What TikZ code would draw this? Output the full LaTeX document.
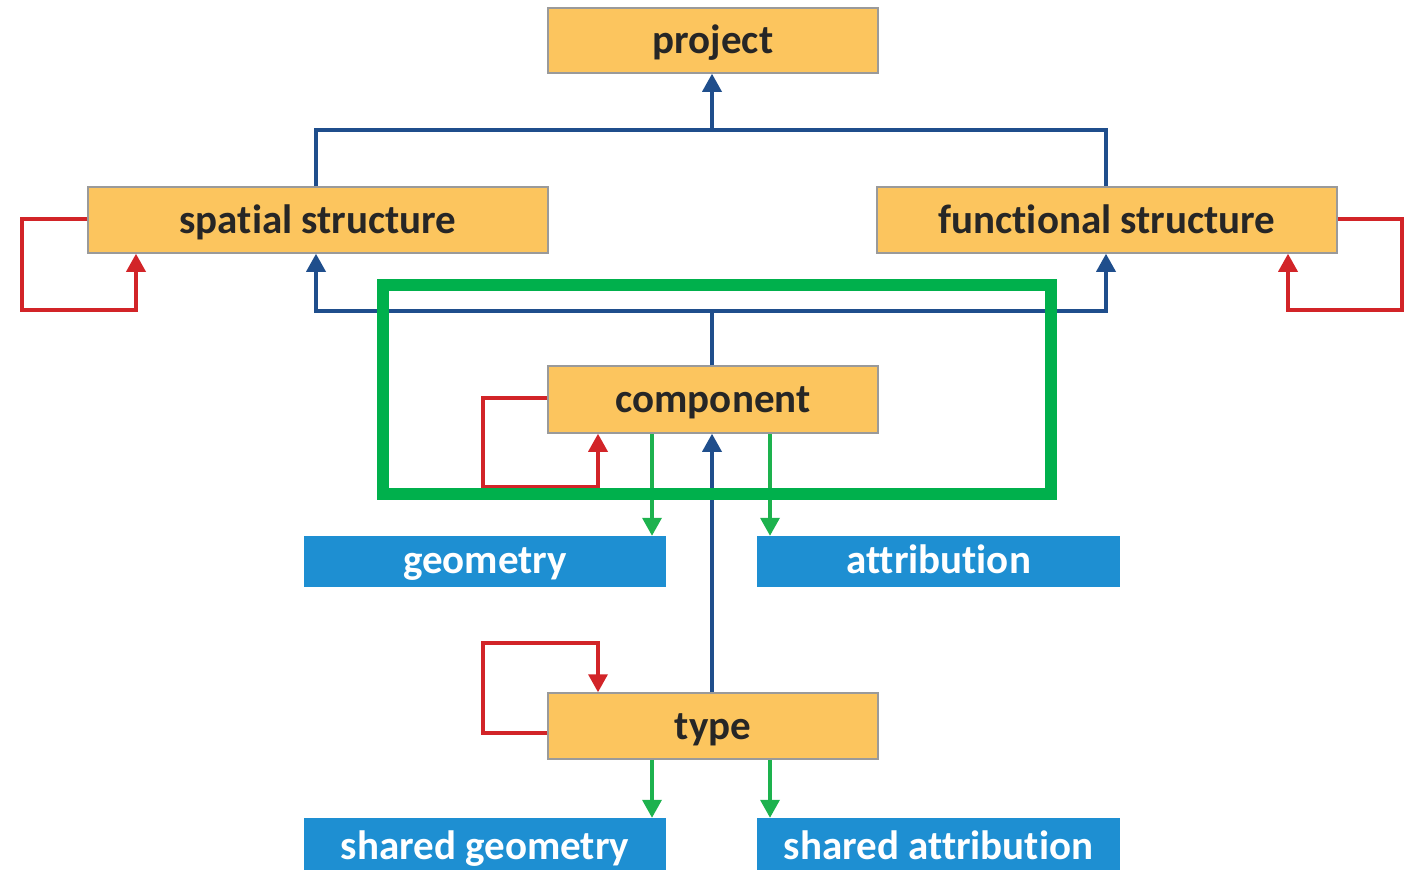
\documentclass[tikz,border=0pt]{standalone}
\usepackage{fontspec}
\setmainfont{Carlito}[Ligatures=NoCommon]
\usetikzlibrary{arrows.meta}
\definecolor{boxorange}{HTML}{FCC55E}
\definecolor{boxedge}{HTML}{9A9A9A}
\definecolor{boxblue}{HTML}{1E8FD2}
\definecolor{lineblue}{HTML}{1F4E8C}
\definecolor{linered}{HTML}{D22428}
\definecolor{linegreen}{HTML}{1DB24E}
\definecolor{framegreen}{HTML}{00B04C}
\begin{document}
\begin{tikzpicture}[x=1pt,y=-1pt,
  obox/.style={draw=boxedge,line width=1.5pt,fill=boxorange,inner sep=0pt,text height=34pt,text depth=8pt,font=\fontsize{41}{41}\selectfont\bfseries,text=black!85},
  bbox/.style={draw=none,fill=boxblue,inner sep=0pt,text height=31pt,text depth=8pt,font=\fontsize{41}{41}\selectfont\bfseries,text=white},
  bl/.style={draw=lineblue,line width=3.5pt},
  rd/.style={draw=linered,line width=3.5pt},
  gr/.style={draw=linegreen,line width=3.5pt},
  tipb/.style={-{Triangle[length=18pt,width=19pt]}},
]
\useasboundingbox (0,0) rectangle (1419,870);
% orange boxes
\node[obox,minimum width=330pt,minimum height=65pt] (project) at (713,40.5) {project};
\node[obox,minimum width=460pt,minimum height=66pt] (spatial) at (318,220) {spatial structure};
\node[obox,minimum width=460pt,minimum height=66pt] (functional) at (1107,220) {functional structure};
\node[obox,minimum width=330pt,minimum height=67pt] (component) at (713,399.5) {component};
\node[obox,minimum width=330pt,minimum height=66pt] (type) at (713,726) {type};
% blue boxes
\node[bbox,minimum width=362pt,minimum height=51pt] (geometry) at (485,561.5) {geometry};
\node[bbox,minimum width=363pt,minimum height=51pt] (attribution) at (938.5,561.5) {attribution};
\node[bbox,minimum width=362pt,minimum height=60pt] (sgeom) at (485,848) {shared geometry};
\node[bbox,minimum width=363pt,minimum height=60pt] (sattr) at (938.5,848) {shared attribution};
% coordinates
\coordinate (topbar) at (712,130);
\coordinate (lowbar) at (712,311);
% blue connectors upper
\draw[bl,tipb] (topbar) -- (project.south -| topbar);
\draw[bl] (spatial.north -| 316,0) |- (topbar) -| (functional.north -| 1106,0);
% blue connectors lower
\draw[bl] (component.north -| lowbar) -- (lowbar);
\draw[bl,tipb] (lowbar) -| (spatial.south -| 316,0);
\draw[bl,tipb] (lowbar) -| (functional.south -| 1106,0);
\draw[bl,tipb] (type.north -| 712,0) -- (component.south -| 712,0);
% red loops
\coordinate (rs1) at (22,310);
\draw[rd,tipb] (spatial.west |- 0,219) -| (rs1) -| (spatial.south -| 136,0);
\coordinate (rf1) at (1402,310);
\draw[rd,tipb] (functional.east |- 0,219) -| (rf1) -| (functional.south -| 1288,0);
\coordinate (rc1) at (483,487);
\draw[rd,tipb] (component.west |- 0,398) -| (rc1) -| (component.south -| 598,0);
\coordinate (rt1) at (483,643);
\draw[rd,tipb] (type.west |- 0,733) -| (rt1) -| (type.north -| 598,0);
% green arrows
\draw[gr,tipb] (component.south -| 652,0) -- (geometry.north -| 652,0);
\draw[gr,tipb] (component.south -| 770,0) -- (attribution.north -| 770,0);
\draw[gr,tipb] (type.south -| 652,0) -- (sgeom.north -| 652,0);
\draw[gr,tipb] (type.south -| 770,0) -- (sattr.north -| 770,0);
% green frame
\draw[draw=framegreen,line width=12pt] (383,285) rectangle (1051,494);
\end{tikzpicture}
\end{document}
